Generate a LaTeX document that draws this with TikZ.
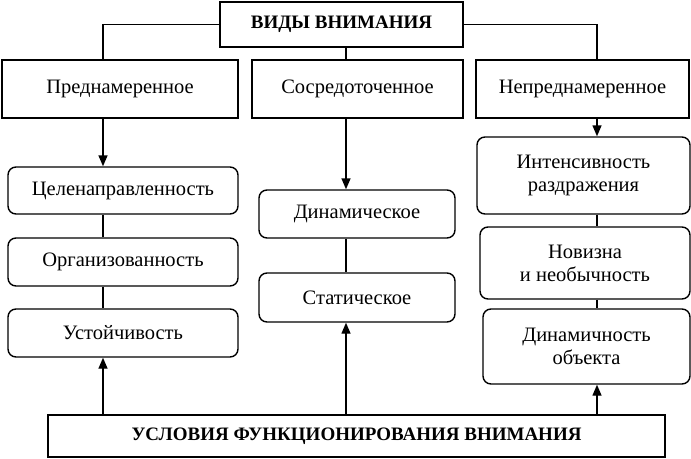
\documentclass[tikz,border=0pt]{standalone}
\usepackage{fontspec}
\setmainfont{Liberation Serif}
\usetikzlibrary{arrows.meta}
\begin{document}
\begin{tikzpicture}[x=1pt,y=-1pt,
  box/.style={draw,line width=1.4pt,inner sep=0pt,align=center,font=\fontsize{20.5}{23}\selectfont},
  rbox/.style={box,rounded corners=8pt},
  hbox/.style={box,font=\fontsize{19}{22}\selectfont\bfseries},
  conn/.style={line width=1.4pt},
  arr/.style={conn,-{Triangle[length=11pt,width=9pt]}}]
\useasboundingbox (0,0) rectangle (691,458);
\node[hbox,minimum width=243pt,minimum height=45pt] (top) at (341.5,24.5) {ВИДЫ ВНИМАНИЯ};
\node[box,minimum width=236pt,minimum height=58pt] (pre) at (120,89) {Преднамеренное};
\node[box,minimum width=211pt,minimum height=58pt] (sos) at (357.5,89) {Сосредоточенное};
\node[box,minimum width=213pt,minimum height=58pt] (nep) at (582.5,89) {Непреднамеренное};
\node[rbox,minimum width=230pt,minimum height=47pt] (c1) at (123,190.5) {Целенаправленность};
\node[rbox,minimum width=230pt,minimum height=48pt] (c2) at (123,262) {Организованность};
\node[rbox,minimum width=230pt,minimum height=48pt] (c3) at (123,333) {Устойчивость};
\node[rbox,minimum width=196pt,minimum height=48pt] (d1) at (357,214) {Динамическое};
\node[rbox,minimum width=196pt,minimum height=49pt] (d2) at (357,297.5) {Статическое};
\node[rbox,minimum width=213pt,minimum height=77pt] (r1) at (583.5,175.5) {Интенсивность\\раздражения};
\node[rbox,minimum width=210pt,minimum height=72pt] (r2) at (585,263) {Новизна\\и необычность};
\node[rbox,minimum width=207pt,minimum height=75pt] (r3) at (586.5,346.5) {Динамичность\\объекта};
\node[hbox,minimum width=617pt,minimum height=42pt] (bot) at (356.5,436) {УСЛОВИЯ ФУНКЦИОНИРОВАНИЯ ВНИМАНИЯ};
\coordinate (lx) at (103,0);
\coordinate (mx) at (346,0);
\coordinate (rx) at (597,0);
\draw[conn] (top.west) -| (pre.north -| lx);
\draw[conn] (top.south -| mx) -- (sos.north -| mx);
\draw[conn] (top.east) -| (nep.north -| rx);
\draw[arr] (pre.south -| lx) -- (c1.north -| lx);
\draw[conn] (c1.south -| lx) -- (c2.north -| lx);
\draw[conn] (c2.south -| lx) -- (c3.north -| lx);
\draw[arr] (bot.north -| lx) -- (c3.south -| lx);
\draw[arr] (sos.south -| mx) -- (d1.north -| mx);
\draw[conn] (d1.south -| mx) -- (d2.north -| mx);
\draw[arr] (bot.north -| mx) -- (d2.south -| mx);
\draw[arr] (nep.south -| rx) -- (r1.north -| rx);
\draw[conn] (r1.south -| rx) -- (r2.north -| rx);
\draw[conn] (r2.south -| rx) -- (r3.north -| rx);
\draw[arr] (bot.north -| rx) -- (r3.south -| rx);
\end{tikzpicture}
\end{document}
